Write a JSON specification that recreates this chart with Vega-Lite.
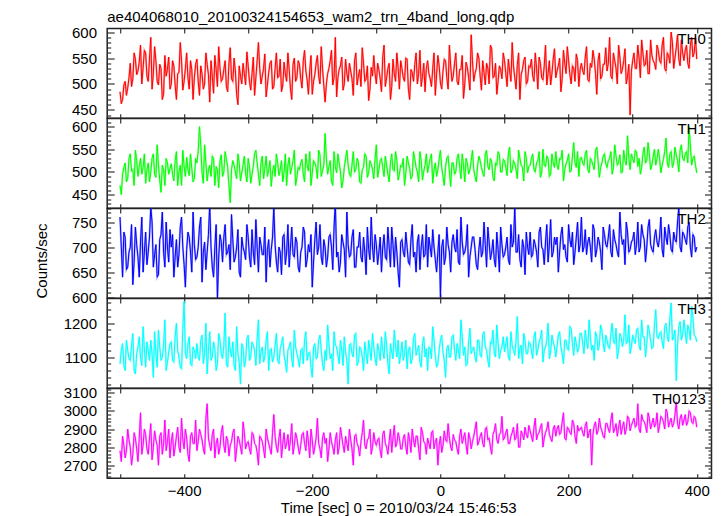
{
"$schema": "https://vega.github.io/schema/vega-lite/v6.json",
"background": "white",
"padding": {"left": 33.2, "top": 8.5, "right": 0, "bottom": 0},
"spacing": 0,
"bounds": "flush",
"data": {"values": [
{"t":-500,"a":485,"b":470,"c":760,"d":1080,"e":2780},
{"t":-496,"a":470,"b":495,"c":640,"d":1140,"e":2860},
{"t":-492,"a":505,"b":520,"c":720,"d":1060,"e":2740},
{"t":-488,"a":492,"b":485,"c":660,"d":1120,"e":2900},
{"t":-484,"a":540,"b":540,"c":700,"d":1090,"e":2800},
{"t":-480,"a":510,"b":505,"c":625,"d":1170,"e":2760},
{"t":-476,"a":548,"b":548,"c":740,"d":1050,"e":2850},
{"t":-472,"a":525,"b":490,"c":680,"d":1130,"e":2720},
{"t":-468,"a":575,"b":530,"c":710,"d":1100,"e":2990},
{"t":-464,"a":530,"b":510,"c":650,"d":1190,"e":2810},
{"t":-460,"a":560,"b":475,"c":730,"d":1070,"e":2870},
{"t":-456,"a":505,"b":520,"c":690,"d":1120,"e":2760},
{"t":-452,"a":590,"b":500,"c":780,"d":1150,"e":2930},
{"t":-448,"a":520,"b":540,"c":660,"d":1040,"e":2800},
{"t":-444,"a":545,"b":488,"c":705,"d":1110,"e":2840},
{"t":-440,"a":498,"b":515,"c":645,"d":1180,"e":2700},
{"t":-436,"a":530,"b":455,"c":725,"d":1090,"e":2880},
{"t":-432,"a":480,"b":505,"c":690,"d":1135,"e":2820},
{"t":-428,"a":515,"b":530,"c":750,"d":1060,"e":2780},
{"t":-424,"a":552,"b":495,"c":670,"d":1115,"e":2900},
{"t":-420,"a":500,"b":518,"c":700,"d":1145,"e":2830},
{"t":-416,"a":535,"b":480,"c":640,"d":1085,"e":2750},
{"t":-412,"a":470,"b":545,"c":715,"d":1200,"e":2860},
{"t":-408,"a":522,"b":500,"c":685,"d":1100,"e":2800},
{"t":-404,"a":545,"b":470,"c":760,"d":1065,"e":2960},
{"t":-400,"a":505,"b":512,"c":665,"d":1265,"e":2790},
{"t":-396,"a":560,"b":532,"c":695,"d":1095,"e":2850},
{"t":-392,"a":490,"b":492,"c":720,"d":1160,"e":2720},
{"t":-388,"a":528,"b":508,"c":650,"d":1075,"e":2880},
{"t":-384,"a":512,"b":485,"c":705,"d":1120,"e":2820},
{"t":-380,"a":548,"b":520,"c":680,"d":1140,"e":2780},
{"t":-376,"a":478,"b":600,"c":740,"d":1090,"e":2900},
{"t":-372,"a":520,"b":498,"c":630,"d":1165,"e":2840},
{"t":-368,"a":500,"b":560,"c":710,"d":1110,"e":2760},
{"t":-364,"a":538,"b":480,"c":690,"d":1050,"e":3040},
{"t":-360,"a":465,"b":515,"c":785,"d":1175,"e":2810},
{"t":-356,"a":515,"b":535,"c":660,"d":1100,"e":2870},
{"t":-352,"a":555,"b":470,"c":700,"d":1125,"e":2740},
{"t":-348,"a":495,"b":505,"c":595,"d":1080,"e":2850},
{"t":-344,"a":530,"b":525,"c":725,"d":1150,"e":2800},
{"t":-340,"a":510,"b":490,"c":670,"d":1095,"e":2920},
{"t":-336,"a":545,"b":545,"c":745,"d":1230,"e":2770},
{"t":-332,"a":485,"b":510,"c":690,"d":1070,"e":2840},
{"t":-328,"a":570,"b":432,"c":655,"d":1120,"e":2810},
{"t":-324,"a":505,"b":525,"c":715,"d":1145,"e":2880},
{"t":-320,"a":525,"b":500,"c":680,"d":1060,"e":2720},
{"t":-316,"a":460,"b":540,"c":735,"d":1110,"e":2860},
{"t":-312,"a":515,"b":480,"c":640,"d":1020,"e":2800},
{"t":-308,"a":540,"b":515,"c":700,"d":1130,"e":2940},
{"t":-304,"a":498,"b":498,"c":675,"d":1090,"e":2790},
{"t":-300,"a":535,"b":530,"c":720,"d":1165,"e":2830},
{"t":-296,"a":488,"b":475,"c":660,"d":1100,"e":2760},
{"t":-292,"a":552,"b":512,"c":690,"d":1135,"e":2870},
{"t":-288,"a":512,"b":548,"c":755,"d":1075,"e":2810},
{"t":-284,"a":580,"b":495,"c":650,"d":1210,"e":2700},
{"t":-280,"a":500,"b":520,"c":705,"d":1115,"e":2850},
{"t":-276,"a":530,"b":485,"c":685,"d":1085,"e":2790},
{"t":-272,"a":475,"b":535,"c":630,"d":1150,"e":2900},
{"t":-268,"a":522,"b":505,"c":715,"d":1060,"e":2820},
{"t":-264,"a":545,"b":468,"c":695,"d":1125,"e":2760},
{"t":-260,"a":495,"b":515,"c":780,"d":1100,"e":2980},
{"t":-256,"a":560,"b":540,"c":670,"d":1170,"e":2800},
{"t":-252,"a":515,"b":492,"c":700,"d":1080,"e":2850},
{"t":-248,"a":485,"b":525,"c":645,"d":1140,"e":2740},
{"t":-244,"a":542,"b":500,"c":725,"d":1105,"e":2880},
{"t":-240,"a":505,"b":470,"c":690,"d":1055,"e":2820},
{"t":-236,"a":528,"b":532,"c":660,"d":1130,"e":2780},
{"t":-232,"a":470,"b":510,"c":740,"d":1095,"e":2930},
{"t":-228,"a":550,"b":548,"c":680,"d":1180,"e":2810},
{"t":-224,"a":512,"b":488,"c":710,"d":1110,"e":2850},
{"t":-220,"a":538,"b":505,"c":650,"d":1070,"e":2760},
{"t":-216,"a":492,"b":528,"c":700,"d":1125,"e":2870},
{"t":-212,"a":565,"b":478,"c":730,"d":1150,"e":2820},
{"t":-208,"a":508,"b":515,"c":675,"d":1090,"e":2890},
{"t":-204,"a":525,"b":545,"c":690,"d":1115,"e":2740},
{"t":-200,"a":480,"b":498,"c":620,"d":1040,"e":2840},
{"t":-196,"a":518,"b":520,"c":715,"d":1140,"e":2800},
{"t":-192,"a":555,"b":485,"c":685,"d":1100,"e":2960},
{"t":-188,"a":500,"b":538,"c":745,"d":1165,"e":2790},
{"t":-184,"a":530,"b":502,"c":665,"d":1080,"e":2850},
{"t":-180,"a":465,"b":585,"c":700,"d":1120,"e":2820},
{"t":-176,"a":520,"b":495,"c":680,"d":1195,"e":2720},
{"t":-172,"a":545,"b":525,"c":725,"d":1095,"e":2880},
{"t":-168,"a":498,"b":470,"c":655,"d":1060,"e":2800},
{"t":-164,"a":590,"b":512,"c":790,"d":1135,"e":2840},
{"t":-160,"a":512,"b":540,"c":690,"d":1105,"e":2760},
{"t":-156,"a":535,"b":500,"c":670,"d":1150,"e":2910},
{"t":-152,"a":488,"b":480,"c":710,"d":1075,"e":2810},
{"t":-148,"a":548,"b":530,"c":640,"d":1115,"e":2860},
{"t":-144,"a":505,"b":515,"c":705,"d":1020,"e":2780},
{"t":-140,"a":525,"b":490,"c":685,"d":1140,"e":2840},
{"t":-136,"a":478,"b":545,"c":735,"d":1100,"e":2700},
{"t":-132,"a":560,"b":505,"c":660,"d":1170,"e":2870},
{"t":-128,"a":515,"b":522,"c":700,"d":1085,"e":2800},
{"t":-124,"a":495,"b":475,"c":680,"d":1125,"e":2830},
{"t":-120,"a":540,"b":510,"c":720,"d":1060,"e":2950},
{"t":-116,"a":510,"b":535,"c":645,"d":1110,"e":2790},
{"t":-112,"a":468,"b":498,"c":695,"d":1150,"e":2850},
{"t":-108,"a":532,"b":518,"c":760,"d":1090,"e":2760},
{"t":-104,"a":555,"b":485,"c":670,"d":1130,"e":2880},
{"t":-100,"a":500,"b":560,"c":705,"d":1075,"e":2810},
{"t":-96,"a":528,"b":505,"c":690,"d":1120,"e":2850},
{"t":-92,"a":485,"b":530,"c":650,"d":1160,"e":2740},
{"t":-88,"a":575,"b":490,"c":725,"d":1095,"e":2890},
{"t":-84,"a":512,"b":515,"c":675,"d":1135,"e":2800},
{"t":-80,"a":540,"b":478,"c":700,"d":1050,"e":2830},
{"t":-76,"a":495,"b":540,"c":740,"d":1115,"e":2770},
{"t":-72,"a":520,"b":502,"c":660,"d":1180,"e":2920},
{"t":-68,"a":560,"b":525,"c":690,"d":1100,"e":2820},
{"t":-64,"a":490,"b":495,"c":620,"d":1080,"e":2850},
{"t":-60,"a":530,"b":512,"c":715,"d":1145,"e":2790},
{"t":-56,"a":505,"b":470,"c":680,"d":1110,"e":2870},
{"t":-52,"a":548,"b":535,"c":700,"d":1065,"e":2760},
{"t":-48,"a":470,"b":508,"c":665,"d":1130,"e":2840},
{"t":-44,"a":522,"b":490,"c":745,"d":1095,"e":2900},
{"t":-40,"a":538,"b":528,"c":690,"d":1170,"e":2800},
{"t":-36,"a":500,"b":500,"c":710,"d":1120,"e":2860},
{"t":-32,"a":565,"b":545,"c":655,"d":1085,"e":2730},
{"t":-28,"a":515,"b":482,"c":725,"d":1140,"e":2880},
{"t":-24,"a":485,"b":515,"c":685,"d":1100,"e":2820},
{"t":-20,"a":545,"b":498,"c":660,"d":1060,"e":2850},
{"t":-16,"a":510,"b":530,"c":700,"d":1125,"e":2790},
{"t":-12,"a":530,"b":475,"c":735,"d":1190,"e":2890},
{"t":-8,"a":478,"b":520,"c":675,"d":1105,"e":2830},
{"t":-4,"a":555,"b":505,"c":690,"d":1080,"e":2700},
{"t":0,"a":502,"b":548,"c":600,"d":1150,"e":2860},
{"t":4,"a":525,"b":490,"c":715,"d":1115,"e":2810},
{"t":8,"a":545,"b":512,"c":680,"d":1040,"e":2840},
{"t":12,"a":490,"b":535,"c":705,"d":1135,"e":2930},
{"t":16,"a":535,"b":468,"c":650,"d":1100,"e":2800},
{"t":20,"a":515,"b":520,"c":725,"d":1165,"e":2870},
{"t":24,"a":560,"b":500,"c":690,"d":1090,"e":2830},
{"t":28,"a":498,"b":540,"c":670,"d":1120,"e":2760},
{"t":32,"a":528,"b":485,"c":760,"d":1210,"e":2900},
{"t":36,"a":472,"b":515,"c":685,"d":1105,"e":2850},
{"t":40,"a":542,"b":530,"c":705,"d":1075,"e":2810},
{"t":44,"a":512,"b":495,"c":640,"d":1145,"e":2880},
{"t":48,"a":595,"b":525,"c":700,"d":1110,"e":2790},
{"t":52,"a":505,"b":505,"c":720,"d":1130,"e":2860},
{"t":56,"a":530,"b":478,"c":665,"d":1085,"e":2940},
{"t":60,"a":550,"b":535,"c":695,"d":1150,"e":2830},
{"t":64,"a":488,"b":510,"c":680,"d":1100,"e":2880},
{"t":68,"a":522,"b":490,"c":750,"d":1175,"e":2800},
{"t":72,"a":540,"b":548,"c":660,"d":1120,"e":2910},
{"t":76,"a":500,"b":505,"c":710,"d":1070,"e":2850},
{"t":80,"a":568,"b":522,"c":690,"d":1140,"e":2760},
{"t":84,"a":515,"b":480,"c":675,"d":1110,"e":2890},
{"t":88,"a":480,"b":515,"c":730,"d":1195,"e":2840},
{"t":92,"a":535,"b":538,"c":650,"d":1095,"e":2870},
{"t":96,"a":510,"b":500,"c":705,"d":1130,"e":2970},
{"t":100,"a":545,"b":525,"c":685,"d":1115,"e":2850},
{"t":104,"a":495,"b":492,"c":720,"d":1160,"e":2900},
{"t":108,"a":525,"b":555,"c":665,"d":1090,"e":2820},
{"t":112,"a":580,"b":505,"c":700,"d":1135,"e":2880},
{"t":116,"a":512,"b":518,"c":780,"d":1105,"e":2840},
{"t":120,"a":538,"b":485,"c":690,"d":1220,"e":2930},
{"t":124,"a":470,"b":530,"c":675,"d":1125,"e":2800},
{"t":128,"a":528,"b":510,"c":715,"d":1080,"e":2870},
{"t":132,"a":552,"b":545,"c":645,"d":1150,"e":2910},
{"t":136,"a":505,"b":498,"c":700,"d":1110,"e":2850},
{"t":140,"a":532,"b":515,"c":730,"d":1140,"e":2890},
{"t":144,"a":515,"b":540,"c":685,"d":1095,"e":2830},
{"t":148,"a":560,"b":500,"c":705,"d":1175,"e":2960},
{"t":152,"a":490,"b":525,"c":660,"d":1120,"e":2870},
{"t":156,"a":540,"b":488,"c":740,"d":1155,"e":2910},
{"t":160,"a":508,"b":550,"c":695,"d":1085,"e":2800},
{"t":164,"a":575,"b":512,"c":710,"d":1130,"e":2880},
{"t":168,"a":520,"b":530,"c":670,"d":1200,"e":2940},
{"t":172,"a":498,"b":495,"c":755,"d":1115,"e":2850},
{"t":176,"a":548,"b":520,"c":690,"d":1145,"e":2900},
{"t":180,"a":512,"b":545,"c":705,"d":1100,"e":2860},
{"t":184,"a":535,"b":505,"c":650,"d":1165,"e":2920},
{"t":188,"a":485,"b":528,"c":725,"d":1130,"e":2880},
{"t":192,"a":565,"b":480,"c":695,"d":1080,"e":2990},
{"t":196,"a":520,"b":518,"c":680,"d":1150,"e":2840},
{"t":200,"a":545,"b":540,"c":745,"d":1120,"e":2900},
{"t":204,"a":500,"b":502,"c":700,"d":1185,"e":2870},
{"t":208,"a":530,"b":565,"c":665,"d":1105,"e":2930},
{"t":212,"a":558,"b":510,"c":720,"d":1140,"e":2820},
{"t":216,"a":495,"b":490,"c":690,"d":1125,"e":2890},
{"t":220,"a":540,"b":532,"c":760,"d":1170,"e":2910},
{"t":224,"a":518,"b":515,"c":700,"d":1110,"e":2860},
{"t":228,"a":572,"b":548,"c":685,"d":1145,"e":2940},
{"t":232,"a":505,"b":498,"c":720,"d":1210,"e":2880},
{"t":236,"a":532,"b":525,"c":670,"d":1120,"e":2700},
{"t":240,"a":548,"b":505,"c":735,"d":1090,"e":2920},
{"t":244,"a":480,"b":555,"c":695,"d":1160,"e":2870},
{"t":248,"a":560,"b":488,"c":710,"d":1135,"e":2960},
{"t":252,"a":515,"b":520,"c":655,"d":1180,"e":2890},
{"t":256,"a":538,"b":540,"c":725,"d":1115,"e":2850},
{"t":260,"a":525,"b":510,"c":700,"d":1150,"e":2930},
{"t":264,"a":590,"b":530,"c":745,"d":1125,"e":2880},
{"t":268,"a":510,"b":495,"c":680,"d":1200,"e":2990},
{"t":272,"a":545,"b":560,"c":715,"d":1140,"e":2900},
{"t":276,"a":500,"b":515,"c":690,"d":1095,"e":2860},
{"t":280,"a":552,"b":538,"c":770,"d":1170,"e":2950},
{"t":284,"a":528,"b":500,"c":705,"d":1130,"e":2910},
{"t":288,"a":568,"b":525,"c":665,"d":1225,"e":2870},
{"t":292,"a":515,"b":580,"c":730,"d":1145,"e":2970},
{"t":296,"a":440,"b":505,"c":695,"d":1110,"e":2890},
{"t":300,"a":545,"b":530,"c":715,"d":1165,"e":2940},
{"t":304,"a":530,"b":548,"c":685,"d":1140,"e":2910},
{"t":308,"a":575,"b":512,"c":750,"d":1185,"e":3040},
{"t":312,"a":512,"b":495,"c":700,"d":1120,"e":2880},
{"t":316,"a":560,"b":540,"c":725,"d":1160,"e":2950},
{"t":320,"a":538,"b":520,"c":670,"d":1100,"e":2920},
{"t":324,"a":520,"b":565,"c":740,"d":1195,"e":2990},
{"t":328,"a":585,"b":505,"c":705,"d":1150,"e":2900},
{"t":332,"a":545,"b":535,"c":690,"d":1130,"e":2960},
{"t":336,"a":528,"b":515,"c":735,"d":1240,"e":2930},
{"t":340,"a":565,"b":550,"c":700,"d":1155,"e":2880},
{"t":344,"a":540,"b":498,"c":760,"d":1175,"e":2970},
{"t":348,"a":590,"b":528,"c":680,"d":1125,"e":2940},
{"t":352,"a":525,"b":575,"c":720,"d":1200,"e":3010},
{"t":356,"a":555,"b":510,"c":745,"d":1145,"e":2910},
{"t":360,"a":600,"b":545,"c":695,"d":1260,"e":2960},
{"t":364,"a":530,"b":520,"c":730,"d":1160,"e":2930},
{"t":368,"a":570,"b":538,"c":710,"d":1030,"e":3050},
{"t":372,"a":548,"b":500,"c":780,"d":1190,"e":2900},
{"t":376,"a":585,"b":560,"c":690,"d":1150,"e":2980},
{"t":380,"a":545,"b":525,"c":725,"d":1210,"e":2950},
{"t":384,"a":575,"b":545,"c":705,"d":1140,"e":2920},
{"t":388,"a":530,"b":600,"c":750,"d":1180,"e":3000},
{"t":392,"a":590,"b":515,"c":680,"d":1250,"e":2940},
{"t":396,"a":560,"b":535,"c":720,"d":1165,"e":2970},
{"t":400,"a":548,"b":498,"c":700,"d":1145,"e":2910},
{"t":-498,"a":462,"b":450,"c":700,"d":1120,"e":2720},
{"t":-494,"a":498,"b":510,"c":730,"d":1075,"e":2810},
{"t":-490,"a":478,"b":478,"c":655,"d":1150,"e":2780},
{"t":-486,"a":512,"b":530,"c":690,"d":1095,"e":2840},
{"t":-482,"a":495,"b":502,"c":745,"d":1135,"e":2700},
{"t":-478,"a":560,"b":470,"c":670,"d":1060,"e":2880},
{"t":-474,"a":518,"b":525,"c":705,"d":1110,"e":2790},
{"t":-470,"a":542,"b":512,"c":640,"d":1160,"e":2850},
{"t":-466,"a":500,"b":495,"c":760,"d":1075,"e":2760},
{"t":-462,"a":565,"b":540,"c":690,"d":1125,"e":2900},
{"t":-458,"a":515,"b":505,"c":665,"d":1145,"e":2790},
{"t":-454,"a":548,"b":478,"c":720,"d":1090,"e":2850},
{"t":-450,"a":490,"b":530,"c":750,"d":1110,"e":2730},
{"t":-446,"a":572,"b":495,"c":685,"d":1175,"e":2890},
{"t":-442,"a":505,"b":560,"c":640,"d":1070,"e":2810},
{"t":-438,"a":538,"b":482,"c":715,"d":1130,"e":2860},
{"t":-434,"a":470,"b":515,"c":770,"d":1100,"e":2760},
{"t":-430,"a":555,"b":470,"c":660,"d":1210,"e":2950},
{"t":-426,"a":528,"b":520,"c":700,"d":1085,"e":2830},
{"t":-422,"a":490,"b":508,"c":735,"d":1140,"e":2740},
{"t":-418,"a":545,"b":495,"c":725,"d":1090,"e":2880},
{"t":-414,"a":498,"b":525,"c":680,"d":1160,"e":2800},
{"t":-410,"a":520,"b":470,"c":660,"d":1120,"e":2910},
{"t":-406,"a":580,"b":515,"c":740,"d":1070,"e":2770},
{"t":-402,"a":488,"b":548,"c":700,"d":1185,"e":2840},
{"t":-398,"a":530,"b":490,"c":620,"d":1110,"e":2900},
{"t":-394,"a":512,"b":505,"c":730,"d":1140,"e":2760},
{"t":-390,"a":545,"b":540,"c":690,"d":1080,"e":2860},
{"t":-386,"a":470,"b":478,"c":770,"d":1130,"e":2820},
{"t":-382,"a":538,"b":530,"c":675,"d":1095,"e":2950},
{"t":-378,"a":505,"b":545,"c":700,"d":1100,"e":2830},
{"t":-374,"a":535,"b":560,"c":760,"d":1150,"e":2870},
{"t":-370,"a":490,"b":475,"c":690,"d":1080,"e":2790},
{"t":-366,"a":560,"b":520,"c":655,"d":1200,"e":2960},
{"t":-362,"a":518,"b":505,"c":725,"d":1120,"e":2850},
{"t":-358,"a":545,"b":490,"c":700,"d":1090,"e":2780},
{"t":-354,"a":482,"b":530,"c":640,"d":1145,"e":2900},
{"t":-350,"a":528,"b":512,"c":745,"d":1060,"e":2820},
{"t":-346,"a":572,"b":465,"c":680,"d":1170,"e":2760},
{"t":-342,"a":505,"b":538,"c":710,"d":1110,"e":2880},
{"t":-338,"a":528,"b":500,"c":720,"d":1135,"e":2810},
{"t":-334,"a":495,"b":528,"c":685,"d":1080,"e":2860},
{"t":-330,"a":540,"b":470,"c":705,"d":1160,"e":2750},
{"t":-326,"a":510,"b":505,"c":765,"d":1100,"e":2830},
{"t":-322,"a":550,"b":515,"c":670,"d":1075,"e":2900},
{"t":-318,"a":480,"b":485,"c":700,"d":1190,"e":2790},
{"t":-314,"a":535,"b":520,"c":650,"d":1085,"e":2840},
{"t":-310,"a":500,"b":498,"c":720,"d":1140,"e":2760},
{"t":-306,"a":520,"b":535,"c":690,"d":1070,"e":2880},
{"t":-302,"a":562,"b":478,"c":745,"d":1155,"e":2820},
{"t":-298,"a":505,"b":512,"c":680,"d":1090,"e":2790},
{"t":-294,"a":520,"b":495,"c":735,"d":1145,"e":2880},
{"t":-290,"a":478,"b":540,"c":665,"d":1120,"e":2820},
{"t":-286,"a":545,"b":520,"c":700,"d":1155,"e":2770},
{"t":-282,"a":530,"b":470,"c":720,"d":1080,"e":2860},
{"t":-278,"a":515,"b":535,"c":685,"d":1130,"e":2830},
{"t":-274,"a":558,"b":508,"c":740,"d":1100,"e":2740},
{"t":-270,"a":498,"b":490,"c":695,"d":1175,"e":2850},
{"t":-266,"a":540,"b":525,"c":660,"d":1120,"e":2790},
{"t":-262,"a":490,"b":500,"c":720,"d":1085,"e":2880},
{"t":-258,"a":530,"b":490,"c":705,"d":1135,"e":2860},
{"t":-254,"a":512,"b":520,"c":650,"d":1090,"e":2770},
{"t":-250,"a":548,"b":505,"c":690,"d":1125,"e":2900},
{"t":-246,"a":498,"b":478,"c":720,"d":1160,"e":2820},
{"t":-242,"a":520,"b":540,"c":665,"d":1085,"e":2790},
{"t":-238,"a":560,"b":515,"c":745,"d":1120,"e":2870},
{"t":-234,"a":490,"b":495,"c":700,"d":1145,"e":2840},
{"t":-230,"a":538,"b":525,"c":685,"d":1070,"e":2760},
{"t":-226,"a":505,"b":470,"c":720,"d":1130,"e":2880},
{"t":-222,"a":545,"b":510,"c":660,"d":1095,"e":2800},
{"t":-218,"a":510,"b":520,"c":690,"d":1120,"e":2810},
{"t":-214,"a":545,"b":495,"c":740,"d":1080,"e":2880},
{"t":-210,"a":525,"b":540,"c":660,"d":1175,"e":2780},
{"t":-206,"a":480,"b":502,"c":705,"d":1110,"e":2830},
{"t":-202,"a":555,"b":470,"c":725,"d":1070,"e":2900},
{"t":-198,"a":505,"b":525,"c":670,"d":1130,"e":2760},
{"t":-194,"a":540,"b":510,"c":750,"d":1095,"e":2850},
{"t":-190,"a":515,"b":548,"c":700,"d":1150,"e":2820},
{"t":-186,"a":572,"b":490,"c":680,"d":1120,"e":2740},
{"t":-182,"a":498,"b":515,"c":715,"d":1060,"e":2880},
{"t":-178,"a":500,"b":530,"c":660,"d":1090,"e":2850},
{"t":-174,"a":530,"b":512,"c":720,"d":1140,"e":2790},
{"t":-170,"a":565,"b":480,"c":700,"d":1110,"e":2830},
{"t":-166,"a":512,"b":545,"c":740,"d":1175,"e":2760},
{"t":-162,"a":475,"b":498,"c":680,"d":1130,"e":2880},
{"t":-158,"a":528,"b":520,"c":650,"d":1080,"e":2800},
{"t":-154,"a":552,"b":465,"c":725,"d":1120,"e":2860},
{"t":-150,"a":500,"b":510,"c":695,"d":1160,"e":2770},
{"t":-146,"a":520,"b":548,"c":770,"d":1090,"e":2820},
{"t":-142,"a":540,"b":495,"c":680,"d":1135,"e":2900},
{"t":-138,"a":510,"b":515,"c":720,"d":1110,"e":2790},
{"t":-134,"a":545,"b":500,"c":660,"d":1165,"e":2860},
{"t":-130,"a":498,"b":530,"c":700,"d":1075,"e":2820},
{"t":-126,"a":528,"b":478,"c":730,"d":1130,"e":2750},
{"t":-122,"a":570,"b":505,"c":670,"d":1100,"e":2880},
{"t":-118,"a":505,"b":540,"c":690,"d":1145,"e":2810},
{"t":-114,"a":535,"b":488,"c":740,"d":1080,"e":2840},
{"t":-110,"a":490,"b":525,"c":675,"d":1120,"e":2900},
{"t":-106,"a":515,"b":505,"c":700,"d":1170,"e":2800},
{"t":-102,"a":520,"b":530,"c":725,"d":1095,"e":2830},
{"t":-98,"a":540,"b":488,"c":665,"d":1140,"e":2840},
{"t":-94,"a":510,"b":525,"c":720,"d":1090,"e":2780},
{"t":-90,"a":552,"b":510,"c":700,"d":1120,"e":2870},
{"t":-86,"a":495,"b":535,"c":680,"d":1175,"e":2820},
{"t":-82,"a":530,"b":495,"c":740,"d":1080,"e":2760},
{"t":-78,"a":470,"b":520,"c":660,"d":1140,"e":2900},
{"t":-74,"a":548,"b":505,"c":705,"d":1095,"e":2850},
{"t":-70,"a":505,"b":545,"c":720,"d":1130,"e":2800},
{"t":-66,"a":530,"b":482,"c":650,"d":1150,"e":2880},
{"t":-62,"a":545,"b":515,"c":710,"d":1110,"e":2790},
{"t":-58,"a":512,"b":530,"c":690,"d":1090,"e":2850},
{"t":-54,"a":550,"b":498,"c":730,"d":1150,"e":2800},
{"t":-50,"a":490,"b":520,"c":670,"d":1120,"e":2880},
{"t":-46,"a":528,"b":485,"c":715,"d":1080,"e":2770},
{"t":-42,"a":505,"b":545,"c":680,"d":1155,"e":2840},
{"t":-38,"a":560,"b":510,"c":650,"d":1105,"e":2860},
{"t":-34,"a":520,"b":478,"c":725,"d":1135,"e":2790},
{"t":-30,"a":495,"b":525,"c":700,"d":1070,"e":2910},
{"t":-26,"a":540,"b":502,"c":680,"d":1160,"e":2830},
{"t":-22,"a":530,"b":540,"c":745,"d":1125,"e":2760},
{"t":-18,"a":520,"b":515,"c":720,"d":1130,"e":2820},
{"t":-14,"a":495,"b":540,"c":680,"d":1095,"e":2880},
{"t":-10,"a":560,"b":505,"c":700,"d":1150,"e":2790},
{"t":-6,"a":518,"b":490,"c":650,"d":1070,"e":2850},
{"t":-2,"a":535,"b":528,"c":725,"d":1120,"e":2810},
{"t":2,"a":490,"b":510,"c":700,"d":1165,"e":2770},
{"t":6,"a":548,"b":470,"c":665,"d":1090,"e":2890},
{"t":10,"a":512,"b":530,"c":740,"d":1125,"e":2830},
{"t":14,"a":575,"b":500,"c":690,"d":1100,"e":2850},
{"t":18,"a":505,"b":520,"c":710,"d":1160,"e":2780},
{"t":22,"a":540,"b":495,"c":700,"d":1120,"e":2840},
{"t":26,"a":505,"b":530,"c":735,"d":1140,"e":2790},
{"t":30,"a":528,"b":512,"c":665,"d":1095,"e":2860},
{"t":34,"a":555,"b":540,"c":710,"d":1160,"e":2820},
{"t":38,"a":500,"b":478,"c":690,"d":1130,"e":2880},
{"t":42,"a":532,"b":520,"c":745,"d":1080,"e":2760},
{"t":46,"a":488,"b":505,"c":680,"d":1185,"e":2850},
{"t":50,"a":545,"b":548,"c":720,"d":1120,"e":2830},
{"t":54,"a":520,"b":490,"c":695,"d":1100,"e":2900},
{"t":58,"a":560,"b":515,"c":655,"d":1150,"e":2810},
{"t":62,"a":515,"b":525,"c":720,"d":1105,"e":2860},
{"t":66,"a":545,"b":498,"c":690,"d":1165,"e":2820},
{"t":70,"a":498,"b":540,"c":705,"d":1130,"e":2900},
{"t":74,"a":530,"b":512,"c":740,"d":1090,"e":2840},
{"t":78,"a":575,"b":530,"c":675,"d":1145,"e":2800},
{"t":82,"a":512,"b":488,"c":715,"d":1180,"e":2870},
{"t":86,"a":540,"b":520,"c":660,"d":1100,"e":2930},
{"t":90,"a":505,"b":545,"c":695,"d":1140,"e":2820},
{"t":94,"a":528,"b":500,"c":740,"d":1120,"e":2880},
{"t":98,"a":560,"b":528,"c":680,"d":1160,"e":2840},
{"t":102,"a":520,"b":510,"c":700,"d":1140,"e":2880},
{"t":106,"a":548,"b":540,"c":675,"d":1100,"e":2820},
{"t":110,"a":505,"b":498,"c":745,"d":1175,"e":2860},
{"t":114,"a":535,"b":525,"c":710,"d":1120,"e":2910},
{"t":118,"a":490,"b":505,"c":690,"d":1150,"e":2850},
{"t":122,"a":560,"b":548,"c":725,"d":1095,"e":2800},
{"t":126,"a":518,"b":515,"c":660,"d":1135,"e":2890},
{"t":130,"a":545,"b":480,"c":700,"d":1170,"e":2840},
{"t":134,"a":500,"b":530,"c":730,"d":1110,"e":2870},
{"t":138,"a":535,"b":512,"c":685,"d":1145,"e":2920},
{"t":142,"a":548,"b":530,"c":680,"d":1120,"e":2860},
{"t":146,"a":505,"b":505,"c":715,"d":1160,"e":2910},
{"t":150,"a":530,"b":520,"c":690,"d":1105,"e":2840},
{"t":154,"a":552,"b":545,"c":730,"d":1145,"e":2880},
{"t":158,"a":512,"b":498,"c":700,"d":1180,"e":2930},
{"t":162,"a":535,"b":515,"c":665,"d":1120,"e":2850},
{"t":166,"a":498,"b":535,"c":745,"d":1150,"e":2900},
{"t":170,"a":545,"b":490,"c":705,"d":1095,"e":2870},
{"t":174,"a":520,"b":540,"c":680,"d":1165,"e":2830},
{"t":178,"a":568,"b":510,"c":720,"d":1130,"e":2920},
{"t":182,"a":525,"b":515,"c":720,"d":1130,"e":2900},
{"t":186,"a":550,"b":530,"c":690,"d":1175,"e":2870},
{"t":190,"a":510,"b":548,"c":740,"d":1110,"e":2940},
{"t":194,"a":540,"b":505,"c":705,"d":1150,"e":2850},
{"t":198,"a":572,"b":525,"c":670,"d":1125,"e":2910},
{"t":202,"a":518,"b":500,"c":715,"d":1190,"e":2880},
{"t":206,"a":535,"b":535,"c":730,"d":1140,"e":2950},
{"t":210,"a":505,"b":520,"c":690,"d":1160,"e":2860},
{"t":214,"a":545,"b":545,"c":750,"d":1115,"e":2920},
{"t":218,"a":528,"b":530,"c":705,"d":1170,"e":2900},
{"t":222,"a":525,"b":520,"c":690,"d":1140,"e":2880},
{"t":226,"a":552,"b":540,"c":735,"d":1180,"e":2920},
{"t":230,"a":508,"b":505,"c":710,"d":1125,"e":2850},
{"t":234,"a":540,"b":530,"c":700,"d":1160,"e":2900},
{"t":238,"a":565,"b":515,"c":745,"d":1135,"e":2870},
{"t":242,"a":520,"b":548,"c":680,"d":1175,"e":2940},
{"t":246,"a":545,"b":525,"c":720,"d":1120,"e":2890},
{"t":250,"a":510,"b":510,"c":690,"d":1195,"e":2910},
{"t":254,"a":538,"b":535,"c":740,"d":1140,"e":2860},
{"t":258,"a":570,"b":518,"c":705,"d":1165,"e":2930},
{"t":262,"a":540,"b":525,"c":720,"d":1130,"e":2900},
{"t":266,"a":515,"b":545,"c":690,"d":1170,"e":2950},
{"t":270,"a":560,"b":510,"c":735,"d":1145,"e":2880},
{"t":274,"a":530,"b":535,"c":705,"d":1185,"e":2930},
{"t":278,"a":575,"b":520,"c":680,"d":1120,"e":2910},
{"t":282,"a":520,"b":498,"c":725,"d":1160,"e":2870},
{"t":286,"a":545,"b":548,"c":715,"d":1150,"e":2940},
{"t":290,"a":500,"b":515,"c":750,"d":1140,"e":2900},
{"t":294,"a":538,"b":530,"c":690,"d":1195,"e":2960},
{"t":298,"a":525,"b":540,"c":710,"d":1130,"e":2920},
{"t":302,"a":560,"b":520,"c":730,"d":1150,"e":2960},
{"t":306,"a":530,"b":545,"c":705,"d":1180,"e":2920},
{"t":310,"a":550,"b":530,"c":690,"d":1135,"e":2900},
{"t":314,"a":585,"b":510,"c":745,"d":1210,"e":2980},
{"t":318,"a":535,"b":555,"c":715,"d":1160,"e":2940},
{"t":322,"a":565,"b":525,"c":700,"d":1140,"e":2880},
{"t":326,"a":520,"b":540,"c":755,"d":1175,"e":2960},
{"t":330,"a":555,"b":515,"c":695,"d":1125,"e":2930},
{"t":334,"a":540,"b":550,"c":720,"d":1195,"e":2910},
{"t":338,"a":575,"b":530,"c":710,"d":1160,"e":2990},
{"t":342,"a":545,"b":530,"c":720,"d":1170,"e":2920},
{"t":346,"a":575,"b":515,"c":695,"d":1145,"e":2960},
{"t":350,"a":530,"b":545,"c":740,"d":1190,"e":2900},
{"t":354,"a":560,"b":520,"c":705,"d":1160,"e":2990},
{"t":358,"a":540,"b":540,"c":725,"d":1215,"e":2940},
{"t":362,"a":580,"b":510,"c":690,"d":1150,"e":2910},
{"t":366,"a":550,"b":555,"c":715,"d":1180,"e":2980},
{"t":370,"a":595,"b":525,"c":750,"d":1135,"e":2930},
{"t":374,"a":535,"b":548,"c":700,"d":1205,"e":2960},
{"t":378,"a":560,"b":530,"c":730,"d":1165,"e":2920},
{"t":382,"a":565,"b":540,"c":715,"d":1175,"e":2980},
{"t":386,"a":540,"b":520,"c":740,"d":1195,"e":2940},
{"t":390,"a":575,"b":560,"c":700,"d":1150,"e":2990},
{"t":394,"a":552,"b":530,"c":725,"d":1220,"e":2930},
{"t":398,"a":590,"b":515,"c":690,"d":1160,"e":2960}
]},
"vconcat": [
{
 "width": 604.3, "height": 89.7,
 "layer": [
  {"mark": {"type": "line", "color": "#ff0000", "strokeWidth": 2, "opacity": 0.35, "clip": true},
   "encoding": {
    "x": {"field": "t", "type": "quantitative", "scale": {"domain": [-520, 423], "nice": false, "zero": false},
          "axis": {"orient": "bottom", "values": [-500,-400,-300,-200,-100,0,100,200,300,400], "labels": false, "tickSize": -4.5, "title": null}},
    "y": {"field": "a", "type": "quantitative", "scale": {"domain": [434, 607], "nice": false, "zero": false},
          "axis": {"orient": "left", "values": [450,500,550,600], "tickSize": -7, "labelPadding": 17.7, "format": "d", "title": null}}}},
  {"mark": {"type": "line", "color": "#ff0000", "strokeWidth": 1, "clip": true},
   "encoding": {
    "x": {"field": "t", "type": "quantitative", "axis": {"orient": "top", "values": [-500,-400,-300,-200,-100,0,100,200,300,400], "labels": false, "tickSize": -4.5, "title": null}},
    "y": {"field": "a", "type": "quantitative", "axis": {"orient": "right", "values": [450,500,550,600], "labels": false, "tickSize": -7, "title": null}}}},
  {"mark": {"type": "line", "strokeOpacity": 0, "clip": true},
   "encoding": {
    "x": {"field": "t", "type": "quantitative", "axis": null},
    "y": {"field": "a", "type": "quantitative", "axis": {"orient": "left", "values": [440,460,470,480,490,510,520,530,540,560,570,580,590], "labels": false, "tickSize": -3.5, "title": null}}}},
  {"mark": {"type": "line", "strokeOpacity": 0, "clip": true},
   "encoding": {
    "x": {"field": "t", "type": "quantitative", "axis": null},
    "y": {"field": "a", "type": "quantitative", "axis": {"orient": "right", "values": [440,460,470,480,490,510,520,530,540,560,570,580,590], "labels": false, "tickSize": -3.5, "title": null}}}},
  {"data": {"values": [{"n": "TH0"}]},
   "mark": {"type": "text", "align": "right", "baseline": "alphabetic", "fontSize": 15, "font": "Liberation Sans", "color": "#000"},
   "encoding": {"x": {"datum": 414, "type": "quantitative", "axis": null}, "y": {"datum": 577, "type": "quantitative", "axis": null}, "text": {"field": "n"}}},
  {"data": {"values": [{"n": "ae404068010_20100324154653_wam2_trn_4band_long.qdp"}]},
   "mark": {"type": "text", "align": "left", "baseline": "alphabetic", "fontSize": 15, "font": "Liberation Sans", "color": "#000"},
   "encoding": {"x": {"datum": -520, "type": "quantitative", "axis": null}, "y": {"datum": 620.1, "type": "quantitative", "axis": null}, "text": {"field": "n"}}}
 ],
 "resolve": {"axis": {"x": "independent", "y": "independent"}}
},
{
 "width": 604.3, "height": 89.7,
 "layer": [
  {"mark": {"type": "line", "color": "#00ff00", "strokeWidth": 2, "opacity": 0.35, "clip": true},
   "encoding": {
    "x": {"field": "t", "type": "quantitative", "scale": {"domain": [-520, 423], "nice": false, "zero": false},
          "axis": {"orient": "bottom", "values": [-500,-400,-300,-200,-100,0,100,200,300,400], "labels": false, "tickSize": -4.5, "title": null}},
    "y": {"field": "b", "type": "quantitative", "scale": {"domain": [420, 618], "nice": false, "zero": false},
          "axis": {"orient": "left", "values": [450,500,550,600], "tickSize": -7, "labelPadding": 17.7, "format": "d", "title": null}}}},
  {"mark": {"type": "line", "color": "#00ff00", "strokeWidth": 1, "clip": true},
   "encoding": {
    "x": {"field": "t", "type": "quantitative", "axis": {"orient": "top", "values": [-500,-400,-300,-200,-100,0,100,200,300,400], "labels": false, "tickSize": -4.5, "title": null}},
    "y": {"field": "b", "type": "quantitative", "axis": {"orient": "right", "values": [450,500,550,600], "labels": false, "tickSize": -7, "title": null}}}},
  {"mark": {"type": "line", "strokeOpacity": 0, "clip": true},
   "encoding": {
    "x": {"field": "t", "type": "quantitative", "axis": null},
    "y": {"field": "b", "type": "quantitative", "axis": {"orient": "left", "values": [420,430,440,460,470,480,490,510,520,530,540,560,570,580,590,610], "labels": false, "tickSize": -3.5, "title": null}}}},
  {"mark": {"type": "line", "strokeOpacity": 0, "clip": true},
   "encoding": {
    "x": {"field": "t", "type": "quantitative", "axis": null},
    "y": {"field": "b", "type": "quantitative", "axis": {"orient": "right", "values": [420,430,440,460,470,480,490,510,520,530,540,560,570,580,590,610], "labels": false, "tickSize": -3.5, "title": null}}}},
  {"data": {"values": [{"n": "TH1"}]},
   "mark": {"type": "text", "align": "right", "baseline": "alphabetic", "fontSize": 15, "font": "Liberation Sans", "color": "#000"},
   "encoding": {"x": {"datum": 414, "type": "quantitative", "axis": null}, "y": {"datum": 584, "type": "quantitative", "axis": null}, "text": {"field": "n"}}}
 ],
 "resolve": {"axis": {"x": "independent", "y": "independent"}}
},
{
 "width": 604.3, "height": 89.7,
 "layer": [
  {"mark": {"type": "line", "color": "#0000ff", "strokeWidth": 2, "opacity": 0.35, "clip": true},
   "encoding": {
    "x": {"field": "t", "type": "quantitative", "scale": {"domain": [-520, 423], "nice": false, "zero": false},
          "axis": {"orient": "bottom", "values": [-500,-400,-300,-200,-100,0,100,200,300,400], "labels": false, "tickSize": -4.5, "title": null}},
    "y": {"field": "c", "type": "quantitative", "scale": {"domain": [598, 777], "nice": false, "zero": false},
          "axis": {"orient": "left", "values": [600,650,700,750], "tickSize": -7, "labelPadding": 17.7, "format": "d", "title": "Counts/sec", "titleX": -66, "titleY": 52, "titleAngle": -90, "titleAlign": "center", "titleBaseline": "middle"}}}},
  {"mark": {"type": "line", "color": "#0000ff", "strokeWidth": 1, "clip": true},
   "encoding": {
    "x": {"field": "t", "type": "quantitative", "axis": {"orient": "top", "values": [-500,-400,-300,-200,-100,0,100,200,300,400], "labels": false, "tickSize": -4.5, "title": null}},
    "y": {"field": "c", "type": "quantitative", "axis": {"orient": "right", "values": [600,650,700,750], "labels": false, "tickSize": -7, "title": null}}}},
  {"mark": {"type": "line", "strokeOpacity": 0, "clip": true},
   "encoding": {
    "x": {"field": "t", "type": "quantitative", "axis": null},
    "y": {"field": "c", "type": "quantitative", "axis": {"orient": "left", "values": [610,620,630,640,660,670,680,690,710,720,730,740,760,770], "labels": false, "tickSize": -3.5, "title": null}}}},
  {"mark": {"type": "line", "strokeOpacity": 0, "clip": true},
   "encoding": {
    "x": {"field": "t", "type": "quantitative", "axis": null},
    "y": {"field": "c", "type": "quantitative", "axis": {"orient": "right", "values": [610,620,630,640,660,670,680,690,710,720,730,740,760,770], "labels": false, "tickSize": -3.5, "title": null}}}},
  {"data": {"values": [{"n": "TH2"}]},
   "mark": {"type": "text", "align": "right", "baseline": "alphabetic", "fontSize": 15, "font": "Liberation Sans", "color": "#000"},
   "encoding": {"x": {"datum": 414, "type": "quantitative", "axis": null}, "y": {"datum": 746, "type": "quantitative", "axis": null}, "text": {"field": "n"}}}
 ],
 "resolve": {"axis": {"x": "independent", "y": "independent"}}
},
{
 "width": 604.3, "height": 89.7,
 "layer": [
  {"mark": {"type": "line", "color": "#00ffff", "strokeWidth": 2, "opacity": 0.35, "clip": true},
   "encoding": {
    "x": {"field": "t", "type": "quantitative", "scale": {"domain": [-520, 423], "nice": false, "zero": false},
          "axis": {"orient": "bottom", "values": [-500,-400,-300,-200,-100,0,100,200,300,400], "labels": false, "tickSize": -4.5, "title": null}},
    "y": {"field": "d", "type": "quantitative", "scale": {"domain": [1008, 1273], "nice": false, "zero": false},
          "axis": {"orient": "left", "values": [1100,1200], "tickSize": -7, "labelPadding": 17.7, "format": "d", "title": null}}}},
  {"mark": {"type": "line", "color": "#00ffff", "strokeWidth": 1, "clip": true},
   "encoding": {
    "x": {"field": "t", "type": "quantitative", "axis": {"orient": "top", "values": [-500,-400,-300,-200,-100,0,100,200,300,400], "labels": false, "tickSize": -4.5, "title": null}},
    "y": {"field": "d", "type": "quantitative", "axis": {"orient": "right", "values": [1100,1200], "labels": false, "tickSize": -7, "title": null}}}},
  {"mark": {"type": "line", "strokeOpacity": 0, "clip": true},
   "encoding": {
    "x": {"field": "t", "type": "quantitative", "axis": null},
    "y": {"field": "d", "type": "quantitative", "axis": {"orient": "left", "values": [1020,1040,1060,1080,1120,1140,1160,1180,1220,1240,1260], "labels": false, "tickSize": -3.5, "title": null}}}},
  {"mark": {"type": "line", "strokeOpacity": 0, "clip": true},
   "encoding": {
    "x": {"field": "t", "type": "quantitative", "axis": null},
    "y": {"field": "d", "type": "quantitative", "axis": {"orient": "right", "values": [1020,1040,1060,1080,1120,1140,1160,1180,1220,1240,1260], "labels": false, "tickSize": -3.5, "title": null}}}},
  {"data": {"values": [{"n": "TH3"}]},
   "mark": {"type": "text", "align": "right", "baseline": "alphabetic", "fontSize": 15, "font": "Liberation Sans", "color": "#000"},
   "encoding": {"x": {"datum": 414, "type": "quantitative", "axis": null}, "y": {"datum": 1228, "type": "quantitative", "axis": null}, "text": {"field": "n"}}}
 ],
 "resolve": {"axis": {"x": "independent", "y": "independent"}}
},
{
 "width": 604.3, "height": 89.7,
 "layer": [
  {"mark": {"type": "line", "color": "#ff00ff", "strokeWidth": 2, "opacity": 0.35, "clip": true},
   "encoding": {
    "x": {"field": "t", "type": "quantitative", "scale": {"domain": [-520, 423], "nice": false, "zero": false},
          "axis": {"orient": "bottom", "values": [-500,-400,-300,-200,-100,0,100,200,300,400], "tickSize": -4.5, "labelPadding": 9.5, "labelExpr": "datum.value % 200 == 0 ? datum.label : ''", "title": "Time [sec] 0 = 2010/03/24 15:46:53", "titleX": 291, "titleY": 34.7, "titleAlign": "center", "titleBaseline": "alphabetic"}},
    "y": {"field": "e", "type": "quantitative", "scale": {"domain": [2628, 3124], "nice": false, "zero": false},
          "axis": {"orient": "left", "values": [2700,2800,2900,3000,3100], "tickSize": -7, "labelPadding": 17.7, "format": "d", "title": null}}}},
  {"mark": {"type": "line", "color": "#ff00ff", "strokeWidth": 1, "clip": true},
   "encoding": {
    "x": {"field": "t", "type": "quantitative", "axis": {"orient": "top", "values": [-500,-400,-300,-200,-100,0,100,200,300,400], "labels": false, "tickSize": -4.5, "title": null}},
    "y": {"field": "e", "type": "quantitative", "axis": {"orient": "right", "values": [2700,2800,2900,3000,3100], "labels": false, "tickSize": -7, "title": null}}}},
  {"mark": {"type": "line", "strokeOpacity": 0, "clip": true},
   "encoding": {
    "x": {"field": "t", "type": "quantitative", "axis": null},
    "y": {"field": "e", "type": "quantitative", "axis": {"orient": "left", "values": [2640,2660,2680,2720,2740,2760,2780,2820,2840,2860,2880,2920,2940,2960,2980,3020,3040,3060,3080,3120], "labels": false, "tickSize": -3.5, "title": null}}}},
  {"mark": {"type": "line", "strokeOpacity": 0, "clip": true},
   "encoding": {
    "x": {"field": "t", "type": "quantitative", "axis": null},
    "y": {"field": "e", "type": "quantitative", "axis": {"orient": "right", "values": [2640,2660,2680,2720,2740,2760,2780,2820,2840,2860,2880,2920,2940,2960,2980,3020,3040,3060,3080,3120], "labels": false, "tickSize": -3.5, "title": null}}}},
  {"data": {"values": [{"n": "TH0123"}]},
   "mark": {"type": "text", "align": "right", "baseline": "alphabetic", "fontSize": 15, "font": "Liberation Sans", "color": "#000"},
   "encoding": {"x": {"datum": 414, "type": "quantitative", "axis": null}, "y": {"datum": 3038, "type": "quantitative", "axis": null}, "text": {"field": "n"}}}
 ],
 "resolve": {"axis": {"x": "independent", "y": "independent"}}
}
],
"config": {
 "concat": {"spacing": 0},
 "view": {"stroke": "#222", "strokeWidth": 1.5},
 "axis": {"domain": false, "grid": false, "labelFont": "Liberation Sans", "labelFontSize": 15, "labelColor": "#000", "tickColor": "#333", "tickWidth": 1.2, "titleFont": "Liberation Sans", "titleFontSize": 15, "titleFontWeight": "normal", "titleColor": "#000", "labelOverlap": false, "labelFlush": false}
}
}
